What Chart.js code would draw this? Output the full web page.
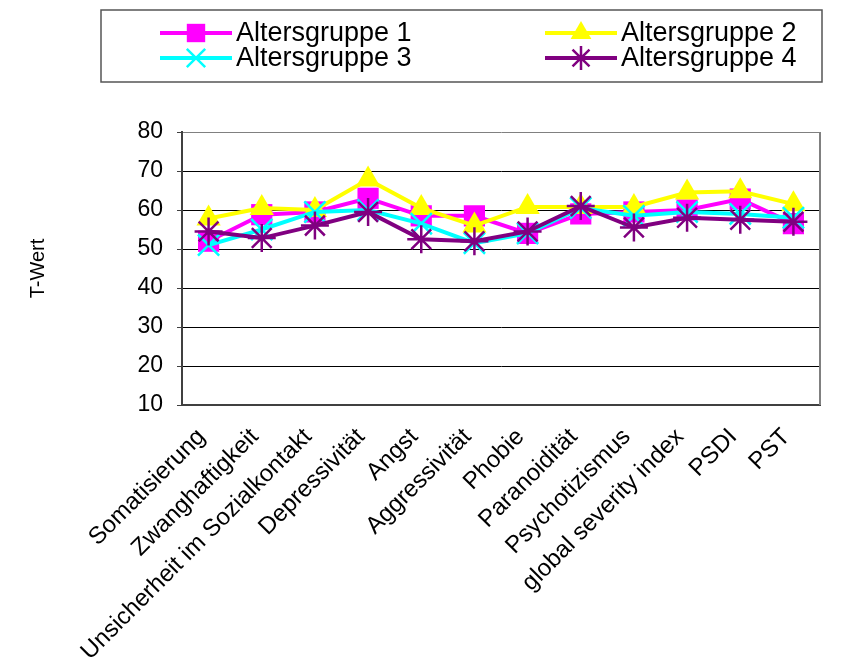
<!DOCTYPE html>
<html>
<head>
<meta charset="utf-8">
<script src="https://cdn.jsdelivr.net/npm/chart.js@4/dist/chart.umd.min.js"></script>
<style>
  body { margin: 0; background: #fff; }
  canvas { display: block; }
</style>
</head>
<body>
<canvas id="chart" width="853" height="671"></canvas>
<script>
// Kategorien (x-Achse)
const kategorien = ['Somatisierung', 'Zwanghaftigkeit', 'Unsicherheit im Sozialkontakt', 'Depressivität',
  'Angst', 'Aggressivität', 'Phobie', 'Paranoidität', 'Psychotizismus', 'global severity index', 'PSDI', 'PST'];

// T-Werte pro Altersgruppe
const gruppe1 = [52, 58.8, 59.5, 63, 58.5, 58.5, 54, 59, 59.5, 60, 62.8, 56.5];
const gruppe2 = [57.8, 60.5, 60, 67.8, 60.5, 56, 60.8, 60.8, 60.8, 64.5, 64.8, 61.5];
const gruppe3 = [51, 55, 59.5, 60, 56.5, 51.5, 54, 60.5, 58.5, 59.5, 59, 58];
const gruppe4 = [54.5, 52.8, 56, 59.5, 52.5, 52, 54.5, 61, 55.5, 58, 57.5, 57];

const gruppenNamen = ['Altersgruppe 1', 'Altersgruppe 2', 'Altersgruppe 3', 'Altersgruppe 4'];
const yTicks = [10, 20, 30, 40, 50, 60, 70, 80];

const schrift = "'Liberation Sans', Arial, sans-serif";
Chart.defaults.font.family = schrift;
Chart.defaults.color = '#000';

function serie(name, werte, farbe, stil, radius, ordnung) {
  return {
    label: name,
    data: werte,
    borderColor: farbe,
    backgroundColor: farbe,
    borderWidth: 4,
    tension: 0,
    pointStyle: stil,
    pointRadius: radius,
    pointBackgroundColor: farbe,
    pointBorderColor: farbe,
    pointBorderWidth: (stil === 'rect' || stil === 'triangle') ? 0 : 2.5,
    order: ordnung
  };
}

const datensaetze = [
  serie(gruppenNamen[0], gruppe1, '#FF00FF', 'rect', 15, 4),
  serie(gruppenNamen[1], gruppe2, '#FFFF00', 'triangle', 14, 3),
  serie(gruppenNamen[2], gruppe3, '#00FFFF', 'crossRot', 15, 2),
  serie(gruppenNamen[3], gruppe4, '#800080', 'star', 14, 1)
];

// Rahmen rechts im Plotbereich
const rahmenPlugin = {
  id: 'rahmen',
  beforeDatasetsDraw(chart) {
    const { ctx, chartArea: a } = chart;
    ctx.save();
    ctx.strokeStyle = '#808080';
    ctx.lineWidth = 2;
    ctx.beginPath();
    ctx.moveTo(a.right, a.top);
    ctx.lineTo(a.right, a.bottom);
    ctx.stroke();
    ctx.restore();
  }
};

// Legende im Excel-Stil: Linie mit Marker, zwei Spalten
const legendePlugin = {
  id: 'legende',
  afterDraw(chart) {
    const ctx = chart.ctx;
    ctx.save();
    ctx.strokeStyle = '#555';
    ctx.lineWidth = 1.5;
    ctx.strokeRect(101, 10, 721, 72);
    const spaltenX = [160, 545];
    const zeilenY = [33, 58];
    chart.data.datasets.forEach((ds, i) => {
      const x = spaltenX[i % 2];
      const y = zeilenY[Math.floor(i / 2)];
      ctx.strokeStyle = ds.borderColor;
      ctx.lineWidth = 4;
      ctx.beginPath();
      ctx.moveTo(x, y);
      ctx.lineTo(x + 72, y);
      ctx.stroke();
      ctx.fillStyle = ds.pointBackgroundColor;
      ctx.strokeStyle = ds.pointBorderColor;
      ctx.lineWidth = ds.pointBorderWidth;
      Chart.helpers.drawPoint(ctx, {
        pointStyle: ds.pointStyle,
        radius: ds.pointRadius - 2,
        rotation: 0,
        borderWidth: ds.pointBorderWidth
      }, x + 36, y);
      ctx.fillStyle = '#000';
      ctx.font = '27px ' + schrift;
      ctx.textBaseline = 'middle';
      ctx.textAlign = 'left';
      ctx.fillText(ds.label, x + 76, y + 1);
    });
    ctx.restore();
  }
};

const ctx = document.getElementById('chart').getContext('2d');
new Chart(ctx, {
  type: 'line',
  data: { labels: kategorien, datasets: datensaetze },
  plugins: [rahmenPlugin, legendePlugin],
  options: {
    responsive: false,
    animation: false,
    layout: { padding: { top: 132, right: 33, left: 0, bottom: 0 } },
    plugins: { legend: { display: false }, tooltip: { enabled: false } },
    scales: {
      x: {
        offset: true,
        grid: { display: false, drawTicks: false },
        border: { display: true, color: '#404040', width: 2 },
        ticks: {
          autoSkip: false,
          minRotation: 45,
          maxRotation: 45,
          padding: 18,
          labelOffset: -7,
          font: { size: 24 },
          color: '#000'
        },
        afterFit: s => { s.height = 266; }
      },
      y: {
        min: yTicks[0],
        max: yTicks[yTicks.length - 1],
        afterBuildTicks: s => { s.ticks = yTicks.map(v => ({ value: v })); },
        grid: {
          color: c => (c.tick && c.tick.value === 80) ? '#808080' : '#000',
          lineWidth: 1,
          tickLength: 5,
          tickColor: '#404040'
        },
        border: { color: '#404040', width: 2 },
        ticks: { padding: 14, font: { size: 23 }, color: '#000' },
        title: { display: true, text: 'T-Wert', font: { size: 20 }, color: '#000', padding: { top: 26, bottom: 0 } },
        afterFit: s => { s.width = 182; }
      }
    }
  }
});
</script>
</body>
</html>
